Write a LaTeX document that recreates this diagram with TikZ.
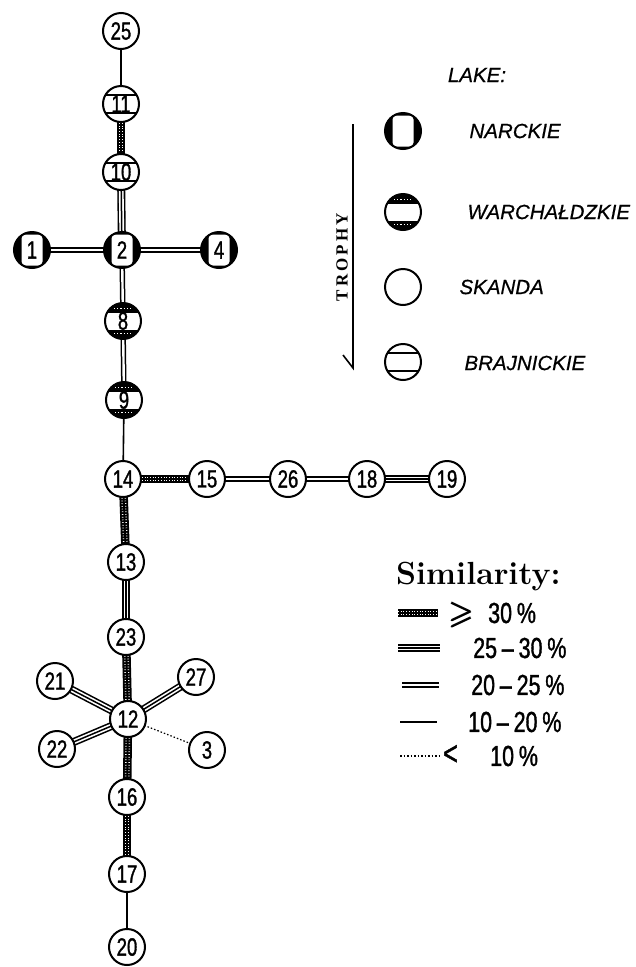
\documentclass[tikz,border=0pt]{standalone}
\usepackage{fontspec}
\usepackage{amsmath}
\usepackage{amssymb}
\usetikzlibrary{backgrounds}
\newfontfamily\numfont[FakeStretch=0.74, FakeBold=1.2]{Liberation Sans}
\newfontfamily\lakefont[FakeBold=0.6]{Liberation Sans}
\newfontfamily\trophyfont[LetterSpace=18]{Liberation Serif}
\tikzset{
  lk/.style={circle, draw, line width=2pt, minimum size=36pt, inner sep=0pt, fill=white,
    font=\numfont\fontsize{25}{25}\selectfont},
  skan/.style={lk},
  narc/.style={lk, path picture={
    \coordinate (ppc) at (path picture bounding box.center);
    \fill[black] ([shift={(-20pt,-20pt)}]ppc) rectangle ([shift={(20pt,20pt)}]ppc);
    \fill[white, rounded corners=4pt] ([shift={(-10.5pt,-15.5pt)}]ppc) rectangle ([shift={(10.5pt,15.5pt)}]ppc);}},
  warch/.style={lk, path picture={
    \coordinate (ppc) at (path picture bounding box.center);
    \fill[black] ([shift={(-20pt,8.5pt)}]ppc) rectangle ([shift={(20pt,20pt)}]ppc);
    \fill[black] ([shift={(-20pt,-8.5pt)}]ppc) rectangle ([shift={(20pt,-20pt)}]ppc);
    \draw[white, line width=1.2pt, dash pattern=on 1.2pt off 2pt] ([shift={(-9pt,12.5pt)}]ppc) -- ([shift={(9pt,12.5pt)}]ppc);
    \draw[white, line width=1.2pt, dash pattern=on 1.2pt off 2pt] ([shift={(-9pt,-12.5pt)}]ppc) -- ([shift={(9pt,-12.5pt)}]ppc);}},
  brajn/.style={lk, path picture={
    \coordinate (ppc) at (path picture bounding box.center);
    \draw[line width=2pt] ([shift={(-20pt,9pt)}]ppc) -- ([shift={(20pt,9pt)}]ppc);
    \draw[line width=2pt] ([shift={(-20pt,-9pt)}]ppc) -- ([shift={(20pt,-9pt)}]ppc);}},
  sA/.style={line width=1.2pt, dash pattern=on 1.5pt off 2pt},
  sB/.style={line width=1.6pt},
  sC/.style={line width=1.5pt, double=white, double distance=2.4pt},
  sD/.style={line width=8pt, postaction={draw=white, line width=4.8pt}, postaction={draw=black, line width=1.5pt}},
  sE/.style={line width=8.5pt, postaction={draw=white, line width=4.8pt, dash pattern=on 0.7pt off 2pt}, postaction={draw=black, line width=1.8pt}},
  laketxt/.style={anchor=west, font=\lakefont\itshape\fontsize{20.5}{20.5}\selectfont},
  legtxt/.style={anchor=west, inner sep=1pt, font=\numfont\fontsize{29}{29}\selectfont},
}
\begin{document}
\begin{tikzpicture}[x=1pt,y=-1pt]
\useasboundingbox (0,0) rectangle (636,967);
% nodes
\node[skan]  (n25) at (121,31)  {25};
\node[brajn] (n11) at (121,104) {11};
\node[brajn] (n10) at (121,172) {10};
\node[narc]  (n2)  at (122,250) {2};
\node[narc]  (n1)  at (32,250)  {1};
\node[narc]  (n4)  at (219,250) {4};
\node[warch] (n8)  at (123,321) {8};
\node[warch] (n9)  at (124,400) {9};
\node[skan]  (n14) at (123,479) {14};
\node[skan]  (n15) at (207,479) {15};
\node[skan]  (n26) at (288,479) {26};
\node[skan]  (n18) at (367,479) {18};
\node[skan]  (n19) at (447,479) {19};
\node[skan]  (n13) at (126,562) {13};
\node[skan]  (n23) at (126,637) {23};
\node[skan]  (n21) at (55,681)  {21};
\node[skan]  (n27) at (196,677) {27};
\node[skan]  (n12) at (128,719) {12};
\node[skan]  (n22) at (57,749)  {22};
\node[skan]  (n3)  at (207,750) {3};
\node[skan]  (n16) at (127,797) {16};
\node[skan]  (n17) at (127,874) {17};
\node[skan]  (n20) at (127,947) {20};
% connectors
\begin{scope}[on background layer]
\draw[sB] (n25.center) -- (n11.center);
\draw[sE] (n11.center) -- (n10.center);
\draw[sD] (n10.center) -- (n2.center);
\draw[sC] (n1.center) -- (n2.center);
\draw[sC] (n2.center) -- (n4.center);
\draw[sC] (n2.center) -- (n8.center);
\draw[sC] (n8.center) -- (n9.center);
\draw[sB] (n9.center) -- (n14.center);
\draw[sE] (n14.center) -- (n15.center);
\draw[sC] (n15.center) -- (n26.center);
\draw[sC] (n26.center) -- (n18.center);
\draw[sD] (n18.center) -- (n19.center);
\draw[sE] (n14.center) -- (n13.center);
\draw[sD] (n13.center) -- (n23.center);
\draw[sE] (n23.center) -- (n12.center);
\draw[sD] (n12.center) -- (n21.center);
\draw[sD] (n12.center) -- (n27.center);
\draw[sD] (n12.center) -- (n22.center);
\draw[sA] (n12.center) -- (n3.center);
\draw[sE] (n12.center) -- (n16.center);
\draw[sE] (n16.center) -- (n17.center);
\draw[sB] (n17.center) -- (n20.center);
\end{scope}
% lake legend
\node[font=\lakefont\itshape\fontsize{20.5}{20.5}\selectfont] (lake) at (477,75) {LAKE:};
\node[narc]  (kn) at (403,131) {};
\node[warch] (kw) at (403,212) {};
\node[skan]  (ks) at (403,287) {};
\node[brajn] (kb) at (403,362) {};
\node[laketxt] (tn) at (466,131) {NARCKIE};
\node[laketxt] (tw) at (464,212) {WARCHAŁDZKIE};
\node[laketxt] (ts) at (456,287) {SKANDA};
\node[laketxt] (tb) at (461,363) {BRAJNICKIE};
% trophy arrow
\coordinate (ta) at (353,124);
\coordinate (tz) at (353,368);
\coordinate (tc) at (343,355);
\draw[line width=1.6pt, line join=miter] (ta) -- (tz) -- (tc);
\node[rotate=90, font=\trophyfont\bfseries\fontsize{17}{17}\selectfont] (troph) at (342,257) {TROPHY};
% similarity legend
\node[anchor=west, inner sep=1pt, font=\bfseries\fontsize{32}{32}\selectfont] (sim) at (395,577) {Similarity:};
\coordinate (l1a) at (398,613); \coordinate (l1b) at (438,613);
\coordinate (l2a) at (398,648); \coordinate (l2b) at (440,648);
\coordinate (l3a) at (402,685); \coordinate (l3b) at (439,685);
\coordinate (l4a) at (400,722); \coordinate (l4b) at (437,722);
\coordinate (l5a) at (400,756); \coordinate (l5b) at (440,756);
\draw[sE] (l1a) -- (l1b);
\draw[sD] (l2a) -- (l2b);
\draw[sC] (l3a) -- (l3b);
\draw[sB] (l4a) -- (l4b);
\draw[sA] (l5a) -- (l5b);
\node[anchor=west, inner sep=0pt, font=\fontsize{32}{32}\selectfont] (g1) at (449,615) {$\pmb{\geqslant}$};
\node[legtxt] (t1) at (487,613) {30\,\%};
\node[legtxt] (t2) at (472,648) {25\,–\,30\,\%};
\node[legtxt] (t3) at (470,685) {20\,–\,25\,\%};
\node[legtxt] (t4) at (467,722) {10\,–\,20\,\%};
\node[anchor=west, inner sep=0pt, font=\numfont\fontsize{34}{34}\selectfont] (g5) at (443,755) {<};
\node[legtxt] (t5) at (489,756) {10\,\%};
\end{tikzpicture}
\end{document}
